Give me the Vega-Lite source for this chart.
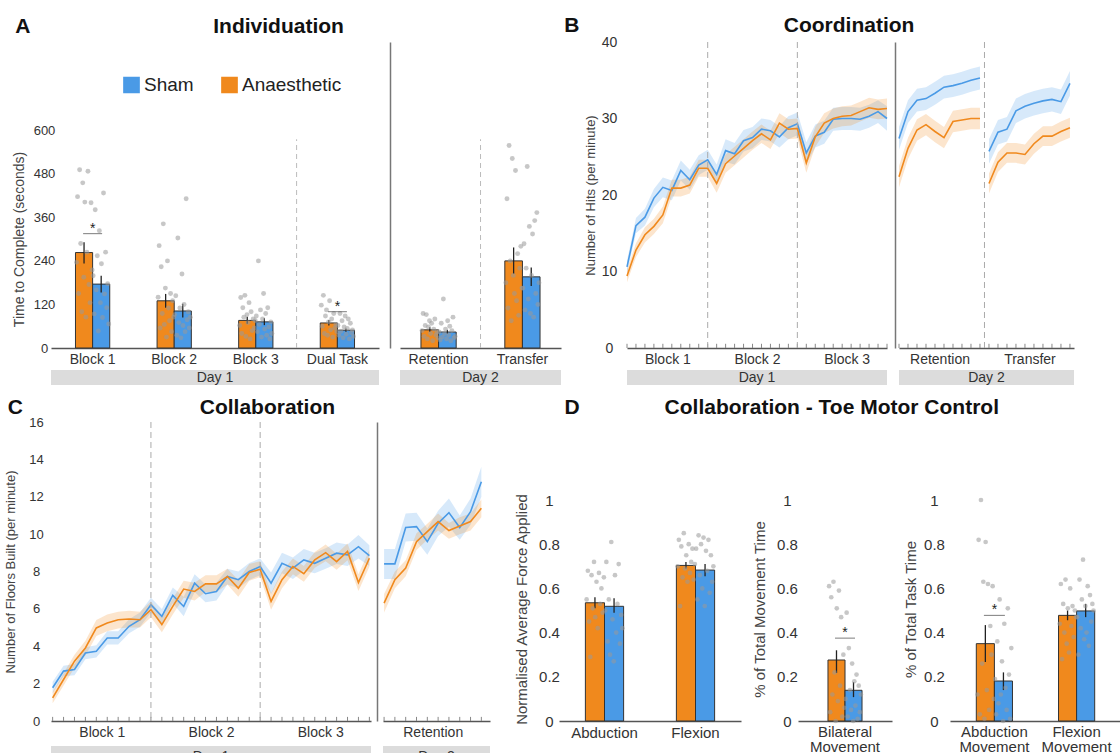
{
"$schema": "https://vega.github.io/schema/vega-lite/v6.json",
"padding": {"left": 4, "top": 15, "right": 0, "bottom": 0},
"config": {
  "font": "Liberation Sans",
  "view": {"stroke": null},
  "axis": {"grid": false, "labelColor": "#333", "titleColor": "#444", "titleFontWeight": "normal", "domainColor": "#555"},
  "title": {"fontSize": 21, "fontWeight": "bold", "color": "#111"}
},
"datasets": {
  "aBars": [
    {"c":"Block 1","g":"Anaesthetic","m":263,"lo":233,"hi":291},
    {"c":"Block 1","g":"Sham","m":176,"lo":153,"hi":199},
    {"c":"Block 2","g":"Anaesthetic","m":130,"lo":111,"hi":149},
    {"c":"Block 2","g":"Sham","m":102,"lo":84,"hi":122},
    {"c":"Block 3","g":"Anaesthetic","m":76,"lo":67,"hi":86},
    {"c":"Block 3","g":"Sham","m":72,"lo":63,"hi":82},
    {"c":"Dual Task","g":"Anaesthetic","m":69,"lo":62,"hi":77},
    {"c":"Dual Task","g":"Sham","m":49,"lo":45,"hi":54},
    {"c":"Retention","g":"Anaesthetic","m":50,"lo":44,"hi":57},
    {"c":"Retention","g":"Sham","m":44,"lo":39,"hi":50},
    {"c":"Transfer","g":"Anaesthetic","m":240,"lo":204,"hi":277},
    {"c":"Transfer","g":"Sham","m":196,"lo":171,"hi":222}
  ],
  "aPts": [
    {"c":"Block 1","k":"a01","v":236},{"c":"Block 1","k":"a02","v":417},{"c":"Block 1","k":"a03","v":150},{"c":"Block 1","k":"a04","v":491},{"c":"Block 1","k":"a05","v":288},{"c":"Block 1","k":"a06","v":100},{"c":"Block 1","k":"a07","v":455},{"c":"Block 1","k":"a08","v":195},{"c":"Block 1","k":"a09","v":402},{"c":"Block 1","k":"a10","v":85},{"c":"Block 1","k":"a11","v":264},{"c":"Block 1","k":"a12","v":487},{"c":"Block 1","k":"a13","v":175},{"c":"Block 1","k":"a14","v":125},{"c":"Block 1","k":"a15","v":400},{"c":"Block 1","k":"a16","v":215},
    {"c":"Block 1","k":"s01","v":199},{"c":"Block 1","k":"s02","v":94},{"c":"Block 1","k":"s03","v":381},{"c":"Block 1","k":"s04","v":160},{"c":"Block 1","k":"s05","v":254},{"c":"Block 1","k":"s06","v":47},{"c":"Block 1","k":"s07","v":323},{"c":"Block 1","k":"s08","v":125},{"c":"Block 1","k":"s09","v":232},{"c":"Block 1","k":"s10","v":84},{"c":"Block 1","k":"s11","v":427},{"c":"Block 1","k":"s12","v":149},{"c":"Block 1","k":"s13","v":264},{"c":"Block 1","k":"s14","v":111},{"c":"Block 1","k":"s15","v":177},{"c":"Block 1","k":"s16","v":66},
    {"c":"Block 2","k":"a01","v":140},{"c":"Block 2","k":"a02","v":282},{"c":"Block 2","k":"a03","v":55},{"c":"Block 2","k":"a04","v":224},{"c":"Block 2","k":"a05","v":95},{"c":"Block 2","k":"a06","v":342},{"c":"Block 2","k":"a07","v":65},{"c":"Block 2","k":"a08","v":165},{"c":"Block 2","k":"a09","v":30},{"c":"Block 2","k":"a10","v":240},{"c":"Block 2","k":"a11","v":110},{"c":"Block 2","k":"a12","v":75},{"c":"Block 2","k":"a13","v":150},{"c":"Block 2","k":"a14","v":45},{"c":"Block 2","k":"a15","v":130},{"c":"Block 2","k":"a16","v":85},
    {"c":"Block 2","k":"s01","v":92},{"c":"Block 2","k":"s02","v":144},{"c":"Block 2","k":"s03","v":35},{"c":"Block 2","k":"s04","v":303},{"c":"Block 2","k":"s05","v":70},{"c":"Block 2","k":"s06","v":110},{"c":"Block 2","k":"s07","v":28},{"c":"Block 2","k":"s08","v":204},{"c":"Block 2","k":"s09","v":62},{"c":"Block 2","k":"s10","v":120},{"c":"Block 2","k":"s11","v":45},{"c":"Block 2","k":"s12","v":411},{"c":"Block 2","k":"s13","v":78},{"c":"Block 2","k":"s14","v":100},{"c":"Block 2","k":"s15","v":55},{"c":"Block 2","k":"s16","v":85},
    {"c":"Block 3","k":"a01","v":62},{"c":"Block 3","k":"a02","v":139},{"c":"Block 3","k":"a03","v":40},{"c":"Block 3","k":"a04","v":111},{"c":"Block 3","k":"a05","v":85},{"c":"Block 3","k":"a06","v":145},{"c":"Block 3","k":"a07","v":32},{"c":"Block 3","k":"a08","v":92},{"c":"Block 3","k":"a09","v":70},{"c":"Block 3","k":"a10","v":125},{"c":"Block 3","k":"a11","v":25},{"c":"Block 3","k":"a12","v":100},{"c":"Block 3","k":"a13","v":48},{"c":"Block 3","k":"a14","v":80},{"c":"Block 3","k":"a15","v":55},{"c":"Block 3","k":"a16","v":75},
    {"c":"Block 3","k":"s01","v":88},{"c":"Block 3","k":"s02","v":45},{"c":"Block 3","k":"s03","v":240},{"c":"Block 3","k":"s04","v":65},{"c":"Block 3","k":"s05","v":105},{"c":"Block 3","k":"s06","v":30},{"c":"Block 3","k":"s07","v":80},{"c":"Block 3","k":"s08","v":150},{"c":"Block 3","k":"s09","v":52},{"c":"Block 3","k":"s10","v":95},{"c":"Block 3","k":"s11","v":35},{"c":"Block 3","k":"s12","v":111},{"c":"Block 3","k":"s13","v":58},{"c":"Block 3","k":"s14","v":25},{"c":"Block 3","k":"s15","v":72},{"c":"Block 3","k":"s16","v":40},
    {"c":"Dual Task","k":"a01","v":118},{"c":"Dual Task","k":"a02","v":60},{"c":"Dual Task","k":"a03","v":145},{"c":"Dual Task","k":"a04","v":40},{"c":"Dual Task","k":"a05","v":88},{"c":"Dual Task","k":"a06","v":105},{"c":"Dual Task","k":"a07","v":35},{"c":"Dual Task","k":"a08","v":72},{"c":"Dual Task","k":"a09","v":130},{"c":"Dual Task","k":"a10","v":50},{"c":"Dual Task","k":"a11","v":80},{"c":"Dual Task","k":"a12","v":30},{"c":"Dual Task","k":"a13","v":95},{"c":"Dual Task","k":"a14","v":55},{"c":"Dual Task","k":"a15","v":65},{"c":"Dual Task","k":"a16","v":45},
    {"c":"Dual Task","k":"s01","v":62},{"c":"Dual Task","k":"s02","v":35},{"c":"Dual Task","k":"s03","v":95},{"c":"Dual Task","k":"s04","v":46},{"c":"Dual Task","k":"s05","v":75},{"c":"Dual Task","k":"s06","v":28},{"c":"Dual Task","k":"s07","v":58},{"c":"Dual Task","k":"s08","v":88},{"c":"Dual Task","k":"s09","v":38},{"c":"Dual Task","k":"s10","v":54},{"c":"Dual Task","k":"s11","v":80},{"c":"Dual Task","k":"s12","v":25},{"c":"Dual Task","k":"s13","v":68},{"c":"Dual Task","k":"s14","v":42},{"c":"Dual Task","k":"s15","v":50},{"c":"Dual Task","k":"s16","v":32},
    {"c":"Retention","k":"a01","v":48},{"c":"Retention","k":"a02","v":95},{"c":"Retention","k":"a03","v":32},{"c":"Retention","k":"a04","v":62},{"c":"Retention","k":"a05","v":92},{"c":"Retention","k":"a06","v":25},{"c":"Retention","k":"a07","v":58},{"c":"Retention","k":"a08","v":75},{"c":"Retention","k":"a09","v":40},{"c":"Retention","k":"a10","v":68},{"c":"Retention","k":"a11","v":20},{"c":"Retention","k":"a12","v":52},{"c":"Retention","k":"a13","v":80},{"c":"Retention","k":"a14","v":36},{"c":"Retention","k":"a15","v":45},{"c":"Retention","k":"a16","v":28},
    {"c":"Retention","k":"s01","v":44},{"c":"Retention","k":"s02","v":22},{"c":"Retention","k":"s03","v":68},{"c":"Retention","k":"s04","v":30},{"c":"Retention","k":"s05","v":135},{"c":"Retention","k":"s06","v":40},{"c":"Retention","k":"s07","v":52},{"c":"Retention","k":"s08","v":25},{"c":"Retention","k":"s09","v":75},{"c":"Retention","k":"s10","v":36},{"c":"Retention","k":"s11","v":60},{"c":"Retention","k":"s12","v":20},{"c":"Retention","k":"s13","v":48},{"c":"Retention","k":"s14","v":85},{"c":"Retention","k":"s15","v":28},{"c":"Retention","k":"s16","v":32},
    {"c":"Transfer","k":"a01","v":180},{"c":"Transfer","k":"a02","v":411},{"c":"Transfer","k":"a03","v":110},{"c":"Transfer","k":"a04","v":558},{"c":"Transfer","k":"a05","v":240},{"c":"Transfer","k":"a06","v":75},{"c":"Transfer","k":"a07","v":522},{"c":"Transfer","k":"a08","v":200},{"c":"Transfer","k":"a09","v":150},{"c":"Transfer","k":"a10","v":489},{"c":"Transfer","k":"a11","v":130},{"c":"Transfer","k":"a12","v":260},{"c":"Transfer","k":"a13","v":90},{"c":"Transfer","k":"a14","v":220},{"c":"Transfer","k":"a15","v":280},{"c":"Transfer","k":"a16","v":165},
    {"c":"Transfer","k":"s01","v":165},{"c":"Transfer","k":"s02","v":287},{"c":"Transfer","k":"s03","v":105},{"c":"Transfer","k":"s04","v":220},{"c":"Transfer","k":"s05","v":500},{"c":"Transfer","k":"s06","v":135},{"c":"Transfer","k":"s07","v":335},{"c":"Transfer","k":"s08","v":95},{"c":"Transfer","k":"s09","v":200},{"c":"Transfer","k":"s10","v":314},{"c":"Transfer","k":"s11","v":85},{"c":"Transfer","k":"s12","v":351},{"c":"Transfer","k":"s13","v":150},{"c":"Transfer","k":"s14","v":373},{"c":"Transfer","k":"s15","v":120},{"c":"Transfer","k":"s16","v":180}
  ],
  "aSig": [{"c":"Block 1","y":315,"s":"*"},{"c":"Dual Task","y":100,"s":"*"}],
  "bL": [
    {"d":1,"p":"B","t":1,"g":"Sham","m":10.6,"lo":9.8,"hi":11.4},{"d":1,"p":"B","t":2,"g":"Sham","m":16.0,"lo":15.0,"hi":17.0},{"d":1,"p":"B","t":3,"g":"Sham","m":17.1,"lo":16.0,"hi":18.2},{"d":1,"p":"B","t":4,"g":"Sham","m":19.6,"lo":18.4,"hi":20.8},{"d":1,"p":"B","t":5,"g":"Sham","m":21.0,"lo":19.7,"hi":22.3},{"d":1,"p":"B","t":6,"g":"Sham","m":20.6,"lo":19.3,"hi":21.9},{"d":1,"p":"B","t":7,"g":"Sham","m":23.2,"lo":21.9,"hi":24.5},{"d":1,"p":"B","t":8,"g":"Sham","m":22.0,"lo":20.7,"hi":23.3},{"d":1,"p":"B","t":9,"g":"Sham","m":23.9,"lo":22.6,"hi":25.2},{"d":1,"p":"B","t":10,"g":"Sham","m":24.6,"lo":23.3,"hi":25.9},
    {"d":1,"p":"B","t":11,"g":"Sham","m":22.7,"lo":21.4,"hi":24.0},{"d":1,"p":"B","t":12,"g":"Sham","m":25.8,"lo":24.3,"hi":27.3},{"d":1,"p":"B","t":13,"g":"Sham","m":25.4,"lo":24.0,"hi":26.8},{"d":1,"p":"B","t":14,"g":"Sham","m":27.1,"lo":25.7,"hi":28.5},{"d":1,"p":"B","t":15,"g":"Sham","m":27.5,"lo":26.1,"hi":28.9},{"d":1,"p":"B","t":16,"g":"Sham","m":28.6,"lo":27.2,"hi":30.0},{"d":1,"p":"B","t":17,"g":"Sham","m":28.4,"lo":27.0,"hi":29.8},{"d":1,"p":"B","t":18,"g":"Sham","m":27.6,"lo":26.2,"hi":29.0},{"d":1,"p":"B","t":19,"g":"Sham","m":28.8,"lo":27.3,"hi":30.3},{"d":1,"p":"B","t":20,"g":"Sham","m":29.3,"lo":27.8,"hi":30.8},
    {"d":1,"p":"B","t":21,"g":"Sham","m":25.5,"lo":24.1,"hi":26.9},{"d":1,"p":"B","t":22,"g":"Sham","m":27.7,"lo":26.2,"hi":29.2},{"d":1,"p":"B","t":23,"g":"Sham","m":28.2,"lo":26.7,"hi":29.7},{"d":1,"p":"B","t":24,"g":"Sham","m":29.9,"lo":28.4,"hi":31.4},{"d":1,"p":"B","t":25,"g":"Sham","m":30.0,"lo":28.5,"hi":31.5},{"d":1,"p":"B","t":26,"g":"Sham","m":30.0,"lo":28.5,"hi":31.5},{"d":1,"p":"B","t":27,"g":"Sham","m":29.9,"lo":28.4,"hi":31.4},{"d":1,"p":"B","t":28,"g":"Sham","m":30.3,"lo":28.8,"hi":31.8},{"d":1,"p":"B","t":29,"g":"Sham","m":30.9,"lo":29.4,"hi":32.4},{"d":1,"p":"B","t":30,"g":"Sham","m":30.0,"lo":28.4,"hi":31.6},
    {"d":1,"p":"B","t":1,"g":"Anaesthetic","m":9.4,"lo":8.6,"hi":10.2},{"d":1,"p":"B","t":2,"g":"Anaesthetic","m":12.8,"lo":11.9,"hi":13.7},{"d":1,"p":"B","t":3,"g":"Anaesthetic","m":14.8,"lo":13.8,"hi":15.8},{"d":1,"p":"B","t":4,"g":"Anaesthetic","m":15.9,"lo":14.9,"hi":16.9},{"d":1,"p":"B","t":5,"g":"Anaesthetic","m":17.4,"lo":16.3,"hi":18.5},{"d":1,"p":"B","t":6,"g":"Anaesthetic","m":20.9,"lo":19.8,"hi":22.0},{"d":1,"p":"B","t":7,"g":"Anaesthetic","m":20.9,"lo":19.8,"hi":22.0},{"d":1,"p":"B","t":8,"g":"Anaesthetic","m":21.3,"lo":20.2,"hi":22.4},{"d":1,"p":"B","t":9,"g":"Anaesthetic","m":23.5,"lo":22.4,"hi":24.6},{"d":1,"p":"B","t":10,"g":"Anaesthetic","m":23.5,"lo":22.4,"hi":24.6},
    {"d":1,"p":"B","t":11,"g":"Anaesthetic","m":21.5,"lo":20.3,"hi":22.7},{"d":1,"p":"B","t":12,"g":"Anaesthetic","m":24.1,"lo":22.9,"hi":25.3},{"d":1,"p":"B","t":13,"g":"Anaesthetic","m":25.1,"lo":23.9,"hi":26.3},{"d":1,"p":"B","t":14,"g":"Anaesthetic","m":26.1,"lo":24.9,"hi":27.3},{"d":1,"p":"B","t":15,"g":"Anaesthetic","m":27.1,"lo":25.9,"hi":28.3},{"d":1,"p":"B","t":16,"g":"Anaesthetic","m":28.0,"lo":26.8,"hi":29.2},{"d":1,"p":"B","t":17,"g":"Anaesthetic","m":27.2,"lo":26.0,"hi":28.4},{"d":1,"p":"B","t":18,"g":"Anaesthetic","m":29.4,"lo":28.1,"hi":30.7},{"d":1,"p":"B","t":19,"g":"Anaesthetic","m":28.6,"lo":27.3,"hi":29.9},{"d":1,"p":"B","t":20,"g":"Anaesthetic","m":28.7,"lo":27.4,"hi":30.0},
    {"d":1,"p":"B","t":21,"g":"Anaesthetic","m":24.2,"lo":22.9,"hi":25.5},{"d":1,"p":"B","t":22,"g":"Anaesthetic","m":27.6,"lo":26.3,"hi":28.9},{"d":1,"p":"B","t":23,"g":"Anaesthetic","m":29.4,"lo":28.1,"hi":30.7},{"d":1,"p":"B","t":24,"g":"Anaesthetic","m":30.0,"lo":28.7,"hi":31.3},{"d":1,"p":"B","t":25,"g":"Anaesthetic","m":30.3,"lo":29.0,"hi":31.6},{"d":1,"p":"B","t":26,"g":"Anaesthetic","m":30.4,"lo":29.1,"hi":31.7},{"d":1,"p":"B","t":27,"g":"Anaesthetic","m":30.9,"lo":29.6,"hi":32.2},{"d":1,"p":"B","t":28,"g":"Anaesthetic","m":31.4,"lo":30.1,"hi":32.7},{"d":1,"p":"B","t":29,"g":"Anaesthetic","m":31.2,"lo":29.9,"hi":32.5},{"d":1,"p":"B","t":30,"g":"Anaesthetic","m":31.3,"lo":30.0,"hi":32.6},
    {"d":2,"p":"R","t":1,"g":"Sham","m":27.4,"lo":25.9,"hi":28.9},{"d":2,"p":"R","t":2,"g":"Sham","m":30.9,"lo":29.4,"hi":32.4},{"d":2,"p":"R","t":3,"g":"Sham","m":32.4,"lo":30.9,"hi":33.9},{"d":2,"p":"R","t":4,"g":"Sham","m":32.6,"lo":31.1,"hi":34.1},{"d":2,"p":"R","t":5,"g":"Sham","m":33.3,"lo":31.8,"hi":34.8},{"d":2,"p":"R","t":6,"g":"Sham","m":34.1,"lo":32.6,"hi":35.6},{"d":2,"p":"R","t":7,"g":"Sham","m":34.3,"lo":32.8,"hi":35.8},{"d":2,"p":"R","t":8,"g":"Sham","m":34.6,"lo":33.1,"hi":36.1},{"d":2,"p":"R","t":9,"g":"Sham","m":35.0,"lo":33.5,"hi":36.5},{"d":2,"p":"R","t":10,"g":"Sham","m":35.3,"lo":33.8,"hi":36.8},
    {"d":2,"p":"R","t":1,"g":"Anaesthetic","m":22.4,"lo":21.0,"hi":23.8},{"d":2,"p":"R","t":2,"g":"Anaesthetic","m":26.1,"lo":24.7,"hi":27.5},{"d":2,"p":"R","t":3,"g":"Anaesthetic","m":28.5,"lo":27.1,"hi":29.9},{"d":2,"p":"R","t":4,"g":"Anaesthetic","m":29.2,"lo":27.8,"hi":30.6},{"d":2,"p":"R","t":5,"g":"Anaesthetic","m":28.3,"lo":26.9,"hi":29.7},{"d":2,"p":"R","t":6,"g":"Anaesthetic","m":27.5,"lo":26.1,"hi":28.9},{"d":2,"p":"R","t":7,"g":"Anaesthetic","m":29.6,"lo":28.2,"hi":31.0},{"d":2,"p":"R","t":8,"g":"Anaesthetic","m":29.8,"lo":28.4,"hi":31.2},{"d":2,"p":"R","t":9,"g":"Anaesthetic","m":30.0,"lo":28.6,"hi":31.4},{"d":2,"p":"R","t":10,"g":"Anaesthetic","m":30.0,"lo":28.6,"hi":31.4},
    {"d":2,"p":"T","t":11,"g":"Sham","m":25.7,"lo":24.1,"hi":27.3},{"d":2,"p":"T","t":12,"g":"Sham","m":28.2,"lo":26.6,"hi":29.8},{"d":2,"p":"T","t":13,"g":"Sham","m":28.6,"lo":27.0,"hi":30.2},{"d":2,"p":"T","t":14,"g":"Sham","m":31.0,"lo":29.4,"hi":32.6},{"d":2,"p":"T","t":15,"g":"Sham","m":31.6,"lo":30.0,"hi":33.2},{"d":2,"p":"T","t":16,"g":"Sham","m":32.0,"lo":30.4,"hi":33.6},{"d":2,"p":"T","t":17,"g":"Sham","m":32.3,"lo":30.7,"hi":33.9},{"d":2,"p":"T","t":18,"g":"Sham","m":32.5,"lo":30.9,"hi":34.1},{"d":2,"p":"T","t":19,"g":"Sham","m":32.2,"lo":30.6,"hi":33.8},{"d":2,"p":"T","t":20,"g":"Sham","m":34.6,"lo":33.0,"hi":36.2},
    {"d":2,"p":"T","t":11,"g":"Anaesthetic","m":21.5,"lo":20.2,"hi":22.8},{"d":2,"p":"T","t":12,"g":"Anaesthetic","m":24.3,"lo":23.0,"hi":25.6},{"d":2,"p":"T","t":13,"g":"Anaesthetic","m":25.5,"lo":24.2,"hi":26.8},{"d":2,"p":"T","t":14,"g":"Anaesthetic","m":25.5,"lo":24.2,"hi":26.8},{"d":2,"p":"T","t":15,"g":"Anaesthetic","m":25.3,"lo":24.0,"hi":26.6},{"d":2,"p":"T","t":16,"g":"Anaesthetic","m":26.7,"lo":25.4,"hi":28.0},{"d":2,"p":"T","t":17,"g":"Anaesthetic","m":27.7,"lo":26.4,"hi":29.0},{"d":2,"p":"T","t":18,"g":"Anaesthetic","m":27.7,"lo":26.4,"hi":29.0},{"d":2,"p":"T","t":19,"g":"Anaesthetic","m":28.3,"lo":27.0,"hi":29.6},{"d":2,"p":"T","t":20,"g":"Anaesthetic","m":28.8,"lo":27.5,"hi":30.1}
  ],
  "cL": [
    {"d":1,"p":"B","t":1,"g":"Sham","m":1.78,"lo":1.5,"hi":2.1},{"d":1,"p":"B","t":2,"g":"Sham","m":2.67,"lo":2.4,"hi":2.95},{"d":1,"p":"B","t":3,"g":"Sham","m":2.76,"lo":2.45,"hi":3.05},{"d":1,"p":"B","t":4,"g":"Sham","m":3.64,"lo":3.3,"hi":3.95},{"d":1,"p":"B","t":5,"g":"Sham","m":3.73,"lo":3.4,"hi":4.05},{"d":1,"p":"B","t":6,"g":"Sham","m":4.44,"lo":4.1,"hi":4.8},{"d":1,"p":"B","t":7,"g":"Sham","m":4.44,"lo":4.1,"hi":4.8},{"d":1,"p":"B","t":8,"g":"Sham","m":5.07,"lo":4.7,"hi":5.45},{"d":1,"p":"B","t":9,"g":"Sham","m":5.42,"lo":5.05,"hi":5.8},{"d":1,"p":"B","t":10,"g":"Sham","m":6.22,"lo":5.8,"hi":6.6},
    {"d":1,"p":"B","t":11,"g":"Sham","m":5.6,"lo":5.2,"hi":6.0},{"d":1,"p":"B","t":12,"g":"Sham","m":6.72,"lo":6.3,"hi":7.15},{"d":1,"p":"B","t":13,"g":"Sham","m":6.13,"lo":5.6,"hi":6.65},{"d":1,"p":"B","t":14,"g":"Sham","m":7.38,"lo":6.9,"hi":7.85},{"d":1,"p":"B","t":15,"g":"Sham","m":6.81,"lo":6.35,"hi":7.3},{"d":1,"p":"B","t":16,"g":"Sham","m":6.93,"lo":6.45,"hi":7.4},{"d":1,"p":"B","t":17,"g":"Sham","m":7.73,"lo":7.3,"hi":8.15},{"d":1,"p":"B","t":18,"g":"Sham","m":7.56,"lo":7.1,"hi":8.0},{"d":1,"p":"B","t":19,"g":"Sham","m":8.0,"lo":7.55,"hi":8.45},{"d":1,"p":"B","t":20,"g":"Sham","m":8.27,"lo":7.8,"hi":8.7},
    {"d":1,"p":"B","t":21,"g":"Sham","m":7.38,"lo":6.8,"hi":7.95},{"d":1,"p":"B","t":22,"g":"Sham","m":8.44,"lo":7.9,"hi":9.0},{"d":1,"p":"B","t":23,"g":"Sham","m":8.18,"lo":7.6,"hi":8.75},{"d":1,"p":"B","t":24,"g":"Sham","m":8.62,"lo":8.05,"hi":9.2},{"d":1,"p":"B","t":25,"g":"Sham","m":8.44,"lo":7.9,"hi":9.0},{"d":1,"p":"B","t":26,"g":"Sham","m":8.71,"lo":8.15,"hi":9.25},{"d":1,"p":"B","t":27,"g":"Sham","m":8.98,"lo":8.4,"hi":9.55},{"d":1,"p":"B","t":28,"g":"Sham","m":8.89,"lo":8.3,"hi":9.45},{"d":1,"p":"B","t":29,"g":"Sham","m":9.33,"lo":8.7,"hi":9.95},{"d":1,"p":"B","t":30,"g":"Sham","m":8.85,"lo":8.3,"hi":9.4},
    {"d":1,"p":"B","t":1,"g":"Anaesthetic","m":1.24,"lo":0.95,"hi":1.55},{"d":1,"p":"B","t":2,"g":"Anaesthetic","m":2.22,"lo":1.9,"hi":2.55},{"d":1,"p":"B","t":3,"g":"Anaesthetic","m":3.2,"lo":2.85,"hi":3.55},{"d":1,"p":"B","t":4,"g":"Anaesthetic","m":3.91,"lo":3.5,"hi":4.3},{"d":1,"p":"B","t":5,"g":"Anaesthetic","m":4.98,"lo":4.55,"hi":5.4},{"d":1,"p":"B","t":6,"g":"Anaesthetic","m":5.24,"lo":4.8,"hi":5.7},{"d":1,"p":"B","t":7,"g":"Anaesthetic","m":5.42,"lo":4.95,"hi":5.85},{"d":1,"p":"B","t":8,"g":"Anaesthetic","m":5.46,"lo":5.0,"hi":5.9},{"d":1,"p":"B","t":9,"g":"Anaesthetic","m":5.42,"lo":5.0,"hi":5.85},{"d":1,"p":"B","t":10,"g":"Anaesthetic","m":5.96,"lo":5.55,"hi":6.4},
    {"d":1,"p":"B","t":11,"g":"Anaesthetic","m":5.16,"lo":4.75,"hi":5.6},{"d":1,"p":"B","t":12,"g":"Anaesthetic","m":6.13,"lo":5.7,"hi":6.55},{"d":1,"p":"B","t":13,"g":"Anaesthetic","m":7.06,"lo":6.6,"hi":7.5},{"d":1,"p":"B","t":14,"g":"Anaesthetic","m":6.93,"lo":6.45,"hi":7.4},{"d":1,"p":"B","t":15,"g":"Anaesthetic","m":7.34,"lo":6.9,"hi":7.8},{"d":1,"p":"B","t":16,"g":"Anaesthetic","m":7.34,"lo":6.9,"hi":7.8},{"d":1,"p":"B","t":17,"g":"Anaesthetic","m":7.73,"lo":7.3,"hi":8.15},{"d":1,"p":"B","t":18,"g":"Anaesthetic","m":7.11,"lo":6.65,"hi":7.55},{"d":1,"p":"B","t":19,"g":"Anaesthetic","m":7.95,"lo":7.5,"hi":8.4},{"d":1,"p":"B","t":20,"g":"Anaesthetic","m":8.12,"lo":7.7,"hi":8.55},
    {"d":1,"p":"B","t":21,"g":"Anaesthetic","m":6.4,"lo":5.95,"hi":6.85},{"d":1,"p":"B","t":22,"g":"Anaesthetic","m":7.56,"lo":7.1,"hi":8.0},{"d":1,"p":"B","t":23,"g":"Anaesthetic","m":8.27,"lo":7.85,"hi":8.7},{"d":1,"p":"B","t":24,"g":"Anaesthetic","m":7.88,"lo":7.45,"hi":8.3},{"d":1,"p":"B","t":25,"g":"Anaesthetic","m":8.62,"lo":8.2,"hi":9.05},{"d":1,"p":"B","t":26,"g":"Anaesthetic","m":9.01,"lo":8.55,"hi":9.45},{"d":1,"p":"B","t":27,"g":"Anaesthetic","m":8.53,"lo":8.1,"hi":8.95},{"d":1,"p":"B","t":28,"g":"Anaesthetic","m":9.07,"lo":8.6,"hi":9.5},{"d":1,"p":"B","t":29,"g":"Anaesthetic","m":7.41,"lo":6.95,"hi":7.85},{"d":1,"p":"B","t":30,"g":"Anaesthetic","m":8.71,"lo":8.25,"hi":9.15},
    {"d":2,"p":"R","t":1,"g":"Sham","m":8.41,"lo":7.6,"hi":9.2},{"d":2,"p":"R","t":2,"g":"Sham","m":8.41,"lo":7.6,"hi":9.2},{"d":2,"p":"R","t":3,"g":"Sham","m":10.36,"lo":9.6,"hi":11.1},{"d":2,"p":"R","t":4,"g":"Sham","m":10.4,"lo":9.65,"hi":11.15},{"d":2,"p":"R","t":5,"g":"Sham","m":9.6,"lo":8.9,"hi":10.3},{"d":2,"p":"R","t":6,"g":"Sham","m":10.58,"lo":9.9,"hi":11.25},{"d":2,"p":"R","t":7,"g":"Sham","m":11.15,"lo":10.4,"hi":11.9},{"d":2,"p":"R","t":8,"g":"Sham","m":10.35,"lo":9.7,"hi":11.0},{"d":2,"p":"R","t":9,"g":"Sham","m":11.2,"lo":10.5,"hi":11.9},{"d":2,"p":"R","t":10,"g":"Sham","m":12.8,"lo":12.0,"hi":13.6},
    {"d":2,"p":"R","t":1,"g":"Anaesthetic","m":6.31,"lo":5.8,"hi":6.8},{"d":2,"p":"R","t":2,"g":"Anaesthetic","m":7.56,"lo":7.1,"hi":8.0},{"d":2,"p":"R","t":3,"g":"Anaesthetic","m":8.18,"lo":7.75,"hi":8.6},{"d":2,"p":"R","t":4,"g":"Anaesthetic","m":9.6,"lo":9.15,"hi":10.05},{"d":2,"p":"R","t":5,"g":"Anaesthetic","m":10.13,"lo":9.7,"hi":10.55},{"d":2,"p":"R","t":6,"g":"Anaesthetic","m":10.67,"lo":10.2,"hi":11.1},{"d":2,"p":"R","t":7,"g":"Anaesthetic","m":10.19,"lo":9.75,"hi":10.6},{"d":2,"p":"R","t":8,"g":"Anaesthetic","m":10.44,"lo":10.0,"hi":10.9},{"d":2,"p":"R","t":9,"g":"Anaesthetic","m":10.67,"lo":10.2,"hi":11.1},{"d":2,"p":"R","t":10,"g":"Anaesthetic","m":11.38,"lo":10.9,"hi":11.85}
  ],
  "dBars": [
    {"p":"D1","c":"Abduction","g":"Anaesthetic","m":0.535,"lo":0.51,"hi":0.56},
    {"p":"D1","c":"Abduction","g":"Sham","m":0.519,"lo":0.49,"hi":0.555},
    {"p":"D1","c":"Flexion","g":"Anaesthetic","m":0.704,"lo":0.69,"hi":0.72},
    {"p":"D1","c":"Flexion","g":"Sham","m":0.683,"lo":0.655,"hi":0.71},
    {"p":"D2","c":"Bilateral Movement","g":"Anaesthetic","m":0.276,"lo":0.217,"hi":0.32},
    {"p":"D2","c":"Bilateral Movement","g":"Sham","m":0.139,"lo":0.108,"hi":0.176},
    {"p":"D3","c":"Abduction Movement","g":"Anaesthetic","m":0.35,"lo":0.267,"hi":0.434},
    {"p":"D3","c":"Abduction Movement","g":"Sham","m":0.181,"lo":0.14,"hi":0.22},
    {"p":"D3","c":"Flexion Movement","g":"Anaesthetic","m":0.478,"lo":0.456,"hi":0.5},
    {"p":"D3","c":"Flexion Movement","g":"Sham","m":0.498,"lo":0.47,"hi":0.53}
  ],
  "dPts": [
    {"p":"D1","c":"Abduction","k":"a01","v":0.55},{"p":"D1","c":"Abduction","k":"a02","v":0.68},{"p":"D1","c":"Abduction","k":"a03","v":0.45},{"p":"D1","c":"Abduction","k":"a04","v":0.29},{"p":"D1","c":"Abduction","k":"a05","v":0.66},{"p":"D1","c":"Abduction","k":"a06","v":0.51},{"p":"D1","c":"Abduction","k":"a07","v":0.72},{"p":"D1","c":"Abduction","k":"a08","v":0.47},{"p":"D1","c":"Abduction","k":"a09","v":0.63},{"p":"D1","c":"Abduction","k":"a10","v":0.42},{"p":"D1","c":"Abduction","k":"a11","v":0.67},{"p":"D1","c":"Abduction","k":"a12","v":0.53},{"p":"D1","c":"Abduction","k":"a13","v":0.60},{"p":"D1","c":"Abduction","k":"a14","v":0.49},{"p":"D1","c":"Abduction","k":"a15","v":0.65},
    {"p":"D1","c":"Abduction","k":"s01","v":0.50},{"p":"D1","c":"Abduction","k":"s02","v":0.72},{"p":"D1","c":"Abduction","k":"s03","v":0.36},{"p":"D1","c":"Abduction","k":"s04","v":0.55},{"p":"D1","c":"Abduction","k":"s05","v":0.30},{"p":"D1","c":"Abduction","k":"s06","v":0.81},{"p":"D1","c":"Abduction","k":"s07","v":0.46},{"p":"D1","c":"Abduction","k":"s08","v":0.27},{"p":"D1","c":"Abduction","k":"s09","v":0.66},{"p":"D1","c":"Abduction","k":"s10","v":0.40},{"p":"D1","c":"Abduction","k":"s11","v":0.53},{"p":"D1","c":"Abduction","k":"s12","v":0.71},{"p":"D1","c":"Abduction","k":"s13","v":0.35},{"p":"D1","c":"Abduction","k":"s14","v":0.48},{"p":"D1","c":"Abduction","k":"s15","v":0.42},
    {"p":"D1","c":"Flexion","k":"a01","v":0.70},{"p":"D1","c":"Flexion","k":"a02","v":0.82},{"p":"D1","c":"Flexion","k":"a03","v":0.52},{"p":"D1","c":"Flexion","k":"a04","v":0.79},{"p":"D1","c":"Flexion","k":"a05","v":0.65},{"p":"D1","c":"Flexion","k":"a06","v":0.85},{"p":"D1","c":"Flexion","k":"a07","v":0.69},{"p":"D1","c":"Flexion","k":"a08","v":0.75},{"p":"D1","c":"Flexion","k":"a09","v":0.63},{"p":"D1","c":"Flexion","k":"a10","v":0.80},{"p":"D1","c":"Flexion","k":"a11","v":0.67},{"p":"D1","c":"Flexion","k":"a12","v":0.72},{"p":"D1","c":"Flexion","k":"a13","v":0.78},{"p":"D1","c":"Flexion","k":"a14","v":0.64},{"p":"D1","c":"Flexion","k":"a15","v":0.71},
    {"p":"D1","c":"Flexion","k":"s01","v":0.78},{"p":"D1","c":"Flexion","k":"s02","v":0.55},{"p":"D1","c":"Flexion","k":"s03","v":0.84},{"p":"D1","c":"Flexion","k":"s04","v":0.66},{"p":"D1","c":"Flexion","k":"s05","v":0.80},{"p":"D1","c":"Flexion","k":"s06","v":0.60},{"p":"D1","c":"Flexion","k":"s07","v":0.83},{"p":"D1","c":"Flexion","k":"s08","v":0.52},{"p":"D1","c":"Flexion","k":"s09","v":0.77},{"p":"D1","c":"Flexion","k":"s10","v":0.68},{"p":"D1","c":"Flexion","k":"s11","v":0.82},{"p":"D1","c":"Flexion","k":"s12","v":0.58},{"p":"D1","c":"Flexion","k":"s13","v":0.75},{"p":"D1","c":"Flexion","k":"s14","v":0.63},{"p":"D1","c":"Flexion","k":"s15","v":0.70},
    {"p":"D2","c":"Bilateral Movement","k":"a01","v":0.61},{"p":"D2","c":"Bilateral Movement","k":"a02","v":0.04},{"p":"D2","c":"Bilateral Movement","k":"a03","v":0.56},{"p":"D2","c":"Bilateral Movement","k":"a04","v":0.12},{"p":"D2","c":"Bilateral Movement","k":"a05","v":0.63},{"p":"D2","c":"Bilateral Movement","k":"a06","v":0.22},{"p":"D2","c":"Bilateral Movement","k":"a07","v":0.0},{"p":"D2","c":"Bilateral Movement","k":"a08","v":0.51},{"p":"D2","c":"Bilateral Movement","k":"a09","v":0.09},{"p":"D2","c":"Bilateral Movement","k":"a10","v":0.59},{"p":"D2","c":"Bilateral Movement","k":"a11","v":0.16},{"p":"D2","c":"Bilateral Movement","k":"a12","v":0.47},{"p":"D2","c":"Bilateral Movement","k":"a13","v":0.02},{"p":"D2","c":"Bilateral Movement","k":"a14","v":0.30},{"p":"D2","c":"Bilateral Movement","k":"a15","v":0.06},
    {"p":"D2","c":"Bilateral Movement","k":"s01","v":0.10},{"p":"D2","c":"Bilateral Movement","k":"s02","v":0.49},{"p":"D2","c":"Bilateral Movement","k":"s03","v":0.02},{"p":"D2","c":"Bilateral Movement","k":"s04","v":0.33},{"p":"D2","c":"Bilateral Movement","k":"s05","v":0.14},{"p":"D2","c":"Bilateral Movement","k":"s06","v":0.05},{"p":"D2","c":"Bilateral Movement","k":"s07","v":0.26},{"p":"D2","c":"Bilateral Movement","k":"s08","v":0.0},{"p":"D2","c":"Bilateral Movement","k":"s09","v":0.18},{"p":"D2","c":"Bilateral Movement","k":"s10","v":0.07},{"p":"D2","c":"Bilateral Movement","k":"s11","v":0.21},{"p":"D2","c":"Bilateral Movement","k":"s12","v":0.01},{"p":"D2","c":"Bilateral Movement","k":"s13","v":0.16},{"p":"D2","c":"Bilateral Movement","k":"s14","v":0.04},{"p":"D2","c":"Bilateral Movement","k":"s15","v":0.12},
    {"p":"D3","c":"Abduction Movement","k":"a01","v":0.12},{"p":"D3","c":"Abduction Movement","k":"a02","v":0.82},{"p":"D3","c":"Abduction Movement","k":"a03","v":0.03},{"p":"D3","c":"Abduction Movement","k":"a04","v":1.0},{"p":"D3","c":"Abduction Movement","k":"a05","v":0.26},{"p":"D3","c":"Abduction Movement","k":"a06","v":0.63},{"p":"D3","c":"Abduction Movement","k":"a07","v":0.01},{"p":"D3","c":"Abduction Movement","k":"a08","v":0.81},{"p":"D3","c":"Abduction Movement","k":"a09","v":0.14},{"p":"D3","c":"Abduction Movement","k":"a10","v":0.62},{"p":"D3","c":"Abduction Movement","k":"a11","v":0.05},{"p":"D3","c":"Abduction Movement","k":"a12","v":0.43},{"p":"D3","c":"Abduction Movement","k":"a13","v":0.30},{"p":"D3","c":"Abduction Movement","k":"a14","v":0.61},{"p":"D3","c":"Abduction Movement","k":"a15","v":0.10},
    {"p":"D3","c":"Abduction Movement","k":"s01","v":0.19},{"p":"D3","c":"Abduction Movement","k":"s02","v":0.03},{"p":"D3","c":"Abduction Movement","k":"s03","v":0.36},{"p":"D3","c":"Abduction Movement","k":"s04","v":0.08},{"p":"D3","c":"Abduction Movement","k":"s05","v":0.55},{"p":"D3","c":"Abduction Movement","k":"s06","v":0.12},{"p":"D3","c":"Abduction Movement","k":"s07","v":0.27},{"p":"D3","c":"Abduction Movement","k":"s08","v":0.0},{"p":"D3","c":"Abduction Movement","k":"s09","v":0.44},{"p":"D3","c":"Abduction Movement","k":"s10","v":0.15},{"p":"D3","c":"Abduction Movement","k":"s11","v":0.05},{"p":"D3","c":"Abduction Movement","k":"s12","v":0.51},{"p":"D3","c":"Abduction Movement","k":"s13","v":0.21},{"p":"D3","c":"Abduction Movement","k":"s14","v":0.01},{"p":"D3","c":"Abduction Movement","k":"s15","v":0.33},
    {"p":"D3","c":"Flexion Movement","k":"a01","v":0.44},{"p":"D3","c":"Flexion Movement","k":"a02","v":0.62},{"p":"D3","c":"Flexion Movement","k":"a03","v":0.28},{"p":"D3","c":"Flexion Movement","k":"a04","v":0.53},{"p":"D3","c":"Flexion Movement","k":"a05","v":0.40},{"p":"D3","c":"Flexion Movement","k":"a06","v":0.64},{"p":"D3","c":"Flexion Movement","k":"a07","v":0.35},{"p":"D3","c":"Flexion Movement","k":"a08","v":0.51},{"p":"D3","c":"Flexion Movement","k":"a09","v":0.31},{"p":"D3","c":"Flexion Movement","k":"a10","v":0.60},{"p":"D3","c":"Flexion Movement","k":"a11","v":0.43},{"p":"D3","c":"Flexion Movement","k":"a12","v":0.52},{"p":"D3","c":"Flexion Movement","k":"a13","v":0.38},{"p":"D3","c":"Flexion Movement","k":"a14","v":0.50},{"p":"D3","c":"Flexion Movement","k":"a15","v":0.47},
    {"p":"D3","c":"Flexion Movement","k":"s01","v":0.47},{"p":"D3","c":"Flexion Movement","k":"s02","v":0.30},{"p":"D3","c":"Flexion Movement","k":"s03","v":0.64},{"p":"D3","c":"Flexion Movement","k":"s04","v":0.42},{"p":"D3","c":"Flexion Movement","k":"s05","v":0.55},{"p":"D3","c":"Flexion Movement","k":"s06","v":0.73},{"p":"D3","c":"Flexion Movement","k":"s07","v":0.37},{"p":"D3","c":"Flexion Movement","k":"s08","v":0.52},{"p":"D3","c":"Flexion Movement","k":"s09","v":0.40},{"p":"D3","c":"Flexion Movement","k":"s10","v":0.61},{"p":"D3","c":"Flexion Movement","k":"s11","v":0.34},{"p":"D3","c":"Flexion Movement","k":"s12","v":0.57},{"p":"D3","c":"Flexion Movement","k":"s13","v":0.45},{"p":"D3","c":"Flexion Movement","k":"s14","v":0.53},{"p":"D3","c":"Flexion Movement","k":"s15","v":0.50}
  ],
  "dSig": [{"p":"D2","c":"Bilateral Movement","y":0.375,"s":"*"},{"p":"D3","c":"Abduction Movement","y":0.478,"s":"*"}]
},
"spacing": 12,
"vconcat": [
 {"spacing": 3, "hconcat": [
  {"title": {"text": "A", "anchor": "start", "offset": 0, "dy": 21, "dx": 3},
   "vconcat": [{
    "title": {"text": "Individuation", "anchor": "middle", "offset": 5, "dx": -8},
    "spacing": 11,
    "hconcat": [
     {"spacing": 4, "vconcat": [
      {"width": 328, "height": 306,
       "resolve": {"scale": {"xOffset": "independent"}},
       "layer": [
        {"data": {"name": "aBars"}, "transform": [{"filter": "datum.c != 'Retention' && datum.c != 'Transfer'"}],
         "mark": {"type": "bar", "stroke": "#333", "strokeWidth": 1},
         "encoding": {
          "x": {"field": "c", "type": "nominal", "scale": {"domain": ["Block 1","Block 2","Block 3","Dual Task"], "paddingInner": 0.58, "paddingOuter": 0.3},
                "axis": {"title": null, "labelAngle": 0, "ticks": false, "domainColor": "#555", "domainWidth": 1.5, "labelFontSize": 14, "labelPadding": 4}},
          "xOffset": {"field": "g", "type": "nominal", "scale": {"domain": ["Anaesthetic","Sham"], "paddingInner": 0, "paddingOuter": 0}},
          "y": {"field": "m", "type": "quantitative", "scale": {"domain": [0, 843], "nice": false},
                "axis": {"title": "Time to Complete (seconds)", "values": [0,120,240,360,480,600], "tickCount": 10, "domain": false, "ticks": false, "labelFontSize": 13, "labelAlign": "center", "labelPadding": 7, "titleFontSize": 14, "titlePadding": 7, "titleY": 197}},
          "color": {"field": "g", "type": "nominal", "scale": {"domain": ["Sham","Anaesthetic"], "range": ["#4A9AE6","#F0891D"]},
                    "legend": {"orient": "none", "legendX": 71, "legendY": 33, "direction": "horizontal", "title": null, "symbolType": "square", "symbolSize": 230, "symbolStrokeColor": "#222", "symbolStrokeWidth": 1.5, "labelFontSize": 19, "labelColor": "#222", "columnPadding": 24, "labelOffset": 3, "padding": 0}}
         }},
        {"data": {"name": "aBars"}, "transform": [{"filter": "datum.c != 'Retention' && datum.c != 'Transfer'"}],
         "mark": {"type": "rule", "color": "#222", "strokeWidth": 1.3},
         "encoding": {"x": {"field": "c", "type": "nominal"}, "xOffset": {"field": "g", "type": "nominal", "scale": {"domain": ["Anaesthetic","Sham"], "paddingInner": 0, "paddingOuter": 0}}, "y": {"field": "lo", "type": "quantitative"}, "y2": {"field": "hi"}}},
        {"data": {"name": "aPts"}, "transform": [{"filter": "datum.c != 'Retention' && datum.c != 'Transfer'"}],
         "mark": {"type": "circle", "size": 24, "color": "#999", "opacity": 0.55},
         "encoding": {"x": {"field": "c", "type": "nominal"}, "xOffset": {"field": "k", "type": "nominal", "scale": {"paddingOuter": 1}}, "y": {"field": "v", "type": "quantitative"}}},
        {"data": {"name": "aSig"}, "mark": {"type": "tick", "orient": "horizontal", "size": 19, "thickness": 1, "color": "#444"},
         "encoding": {"x": {"field": "c", "type": "nominal"}, "y": {"field": "y", "type": "quantitative"}}},
        {"data": {"name": "aSig"}, "mark": {"type": "text", "fontSize": 14, "dy": -5, "color": "#222"},
         "encoding": {"x": {"field": "c", "type": "nominal"}, "y": {"field": "y", "type": "quantitative"}, "text": {"field": "s"}}},
        {"data": {"values": [{"c": "Dual Task"}]}, "mark": {"type": "rule", "strokeDash": [5,4], "color": "#bbb"},
         "encoding": {"x": {"field": "c", "type": "nominal", "bandPosition": -0.69}, "y": {"datum": 0}, "y2": {"datum": 575}}}
       ]},
      {"width": 328, "height": 15, "data": {"values": [{"d": "Day 1"}]},
       "layer": [
        {"mark": {"type": "rect", "color": "#dcdcdc"}, "encoding": {"x": {"field": "d", "type": "nominal", "axis": null, "scale": {"paddingInner": 0, "paddingOuter": 0}}}},
        {"mark": {"type": "text", "fontSize": 14, "color": "#333"}, "encoding": {"x": {"field": "d", "type": "nominal", "axis": null}, "text": {"field": "d"}}}
       ]}
     ]},
     {"spacing": 4, "vconcat": [
      {"width": 161, "height": 306,
       "resolve": {"scale": {"xOffset": "independent"}},
       "layer": [
        {"data": {"name": "aBars"}, "transform": [{"filter": "datum.c == 'Retention' || datum.c == 'Transfer'"}],
         "mark": {"type": "bar", "stroke": "#333", "strokeWidth": 1},
         "encoding": {
          "x": {"field": "c", "type": "nominal", "scale": {"domain": ["Retention","Transfer"], "paddingInner": 0.58, "paddingOuter": 0.25},
                "axis": {"title": null, "labelAngle": 0, "ticks": false, "domainColor": "#555", "domainWidth": 1.5, "labelFontSize": 14, "labelPadding": 4}},
          "xOffset": {"field": "g", "type": "nominal", "scale": {"domain": ["Anaesthetic","Sham"], "paddingInner": 0, "paddingOuter": 0}},
          "y": {"field": "m", "type": "quantitative", "scale": {"domain": [0, 843], "nice": false},
                "axis": {"title": null, "labels": false, "ticks": false, "domain": true, "domainColor": "#777", "domainWidth": 1.5, "offset": 10}},
          "color": {"field": "g", "type": "nominal", "scale": {"domain": ["Sham","Anaesthetic"], "range": ["#4A9AE6","#F0891D"]}, "legend": null}
         }},
        {"data": {"name": "aBars"}, "transform": [{"filter": "datum.c == 'Retention' || datum.c == 'Transfer'"}],
         "mark": {"type": "rule", "color": "#222", "strokeWidth": 1.3},
         "encoding": {"x": {"field": "c", "type": "nominal"}, "xOffset": {"field": "g", "type": "nominal", "scale": {"domain": ["Anaesthetic","Sham"], "paddingInner": 0, "paddingOuter": 0}}, "y": {"field": "lo", "type": "quantitative"}, "y2": {"field": "hi"}}},
        {"data": {"name": "aPts"}, "transform": [{"filter": "datum.c == 'Retention' || datum.c == 'Transfer'"}],
         "mark": {"type": "circle", "size": 24, "color": "#999", "opacity": 0.55},
         "encoding": {"x": {"field": "c", "type": "nominal"}, "xOffset": {"field": "k", "type": "nominal", "scale": {"paddingOuter": 1}}, "y": {"field": "v", "type": "quantitative"}}},
        {"data": {"values": [{"c": "Transfer"}]}, "mark": {"type": "rule", "strokeDash": [5,4], "color": "#bbb"},
         "encoding": {"x": {"field": "c", "type": "nominal", "bandPosition": -0.69}, "y": {"datum": 0}, "y2": {"datum": 575}}}
       ]},
      {"width": 161, "height": 15, "data": {"values": [{"d": "Day 2"}]},
       "layer": [
        {"mark": {"type": "rect", "color": "#dcdcdc"}, "encoding": {"x": {"field": "d", "type": "nominal", "axis": null, "scale": {"paddingInner": 0, "paddingOuter": 0}}}},
        {"mark": {"type": "text", "fontSize": 14, "color": "#333"}, "encoding": {"x": {"field": "d", "type": "nominal", "axis": null}, "text": {"field": "d"}}}
       ]}
     ]}
    ]
   }]
  },
  {"title": {"text": "B", "anchor": "start", "offset": 0, "dy": 21, "dx": -20},
   "vconcat": [{
    "title": {"text": "Coordination", "anchor": "middle", "offset": -1, "dx": 20},
    "spacing": 4,
    "hconcat": [
     {"spacing": 4, "vconcat": [
      {"width": 260, "height": 306,
       "layer": [
        {"data": {"name": "bL"}, "transform": [{"filter": "datum.d == 1"}], "mark": {"type": "area", "opacity": 0.22},
         "encoding": {
          "x": {"field": "t", "type": "quantitative", "scale": {"domain": [1, 30], "nice": false},
                "axis": {"title": null, "values": [5.5, 15.5, 25.5], "ticks": false, "labelExpr": "datum.value < 10 ? 'Block 1' : datum.value < 20 ? 'Block 2' : 'Block 3'", "labelFlush": false, "labelBound": false, "labelFontSize": 14, "labelPadding": 4, "domainColor": "#555", "domainWidth": 1.5}},
          "y": {"field": "lo", "type": "quantitative", "scale": {"domain": [0, 40], "nice": false},
                "axis": {"title": "Number of Hits (per minute)", "values": [0,10,20,30,40], "tickCount": 10, "domain": false, "ticks": false, "labelFontSize": 14, "labelAlign": "center", "labelPadding": 18, "titleFontSize": 13, "titlePadding": 4}},
          "y2": {"field": "hi"},
          "color": {"field": "g", "type": "nominal", "scale": {"domain": ["Sham","Anaesthetic"], "range": ["#4A9AE6","#F0891D"]}, "legend": null}
         }},
        {"data": {"name": "bL"}, "transform": [{"filter": "datum.d == 1"}], "mark": {"type": "line", "strokeWidth": 1.6},
         "encoding": {"x": {"field": "t", "type": "quantitative"}, "y": {"field": "m", "type": "quantitative"}, "color": {"field": "g", "type": "nominal", "legend": null}}},
        {"data": {"name": "bL"}, "transform": [{"filter": "datum.d == 1 && datum.g == 'Sham'"}], "mark": {"type": "rule", "color": "#888"},
         "encoding": {"x": {"field": "t", "type": "quantitative"}, "y": {"datum": 0}, "y2": {"datum": 0.55}}},
        {"data": {"values": [{"t": 10}, {"t": 20}]}, "mark": {"type": "rule", "strokeDash": [6,4], "color": "#aaa"},
         "encoding": {"x": {"field": "t", "type": "quantitative"}}}
       ]},
      {"width": 260, "height": 15, "data": {"values": [{"d": "Day 1"}]},
       "layer": [
        {"mark": {"type": "rect", "color": "#dcdcdc"}, "encoding": {"x": {"field": "d", "type": "nominal", "axis": null, "scale": {"paddingInner": 0, "paddingOuter": 0}}}},
        {"mark": {"type": "text", "fontSize": 14, "color": "#333"}, "encoding": {"x": {"field": "d", "type": "nominal", "axis": null}, "text": {"field": "d"}}}
       ]}
     ]},
     {"spacing": 4, "vconcat": [
      {"width": 175, "height": 306,
       "layer": [
        {"data": {"name": "bL"}, "transform": [{"filter": "datum.d == 2"}], "mark": {"type": "area", "opacity": 0.22},
         "encoding": {
          "x": {"field": "t", "type": "quantitative", "scale": {"domain": [1, 20.45], "nice": false},
                "axis": {"title": null, "values": [5.5, 15.5], "ticks": false, "labelExpr": "datum.value < 10 ? 'Retention' : 'Transfer'", "labelFlush": false, "labelBound": false, "labelFontSize": 14, "labelPadding": 4, "domainColor": "#555", "domainWidth": 1.5}},
          "y": {"field": "lo", "type": "quantitative", "scale": {"domain": [0, 40], "nice": false},
                "axis": {"title": null, "labels": false, "ticks": false, "domain": true, "domainColor": "#777", "domainWidth": 1.5, "offset": 4}},
          "y2": {"field": "hi"},
          "detail": {"field": "p"},
          "color": {"field": "g", "type": "nominal", "scale": {"domain": ["Sham","Anaesthetic"], "range": ["#4A9AE6","#F0891D"]}, "legend": null}
         }},
        {"data": {"name": "bL"}, "transform": [{"filter": "datum.d == 2"}], "mark": {"type": "line", "strokeWidth": 1.6},
         "encoding": {"x": {"field": "t", "type": "quantitative"}, "y": {"field": "m", "type": "quantitative"}, "detail": {"field": "p"}, "color": {"field": "g", "type": "nominal", "legend": null}}},
        {"data": {"name": "bL"}, "transform": [{"filter": "datum.d == 2 && datum.g == 'Sham'"}], "mark": {"type": "rule", "color": "#888"},
         "encoding": {"x": {"field": "t", "type": "quantitative"}, "y": {"datum": 0}, "y2": {"datum": 0.55}}},
        {"data": {"values": [{"t": 10.5}]}, "mark": {"type": "rule", "strokeDash": [6,4], "color": "#aaa"},
         "encoding": {"x": {"field": "t", "type": "quantitative"}}}
       ]},
      {"width": 175, "height": 15, "data": {"values": [{"d": "Day 2"}]},
       "layer": [
        {"mark": {"type": "rect", "color": "#dcdcdc"}, "encoding": {"x": {"field": "d", "type": "nominal", "axis": null, "scale": {"paddingInner": 0, "paddingOuter": 0}}}},
        {"mark": {"type": "text", "fontSize": 14, "color": "#333"}, "encoding": {"x": {"field": "d", "type": "nominal", "axis": null}, "text": {"field": "d"}}}
       ]}
     ]}
    ]
   }]
  }
 ]},
 {"spacing": 24, "hconcat": [
  {"title": {"text": "C", "anchor": "start", "offset": 0, "dy": 21, "dx": 3},
   "vconcat": [{
    "title": {"text": "Collaboration", "anchor": "middle", "offset": -2, "dx": 20},
    "spacing": 4,
    "hconcat": [
     {"spacing": 7, "vconcat": [
      {"width": 320, "height": 299,
       "layer": [
        {"data": {"name": "cL"}, "transform": [{"filter": "datum.d == 1"}], "mark": {"type": "area", "opacity": 0.22},
         "encoding": {
          "x": {"field": "t", "type": "quantitative", "scale": {"domain": [0.85, 30.15], "nice": false},
                "axis": {"title": null, "values": [5.5, 15.5, 25.5], "ticks": false, "labelExpr": "datum.value < 10 ? 'Block 1' : datum.value < 20 ? 'Block 2' : 'Block 3'", "labelFlush": false, "labelBound": false, "labelFontSize": 14, "labelPadding": 4, "domainColor": "#555", "domainWidth": 1.5}},
          "y": {"field": "lo", "type": "quantitative", "scale": {"domain": [0, 16], "nice": false},
                "axis": {"title": "Number of Floors Built (per minute)", "values": [0,2,4,6,8,10,12,14,16], "tickCount": 20, "labelOverlap": false, "domain": false, "ticks": false, "labelFontSize": 13, "labelAlign": "center", "labelPadding": 15, "titleFontSize": 13, "titlePadding": 11}},
          "y2": {"field": "hi"},
          "color": {"field": "g", "type": "nominal", "scale": {"domain": ["Sham","Anaesthetic"], "range": ["#4A9AE6","#F0891D"]}, "legend": null}
         }},
        {"data": {"name": "cL"}, "transform": [{"filter": "datum.d == 1"}], "mark": {"type": "line", "strokeWidth": 1.6},
         "encoding": {"x": {"field": "t", "type": "quantitative"}, "y": {"field": "m", "type": "quantitative"}, "color": {"field": "g", "type": "nominal", "legend": null}}},
        {"data": {"name": "cL"}, "transform": [{"filter": "datum.d == 1 && datum.g == 'Sham'"}], "mark": {"type": "rule", "color": "#888"},
         "encoding": {"x": {"field": "t", "type": "quantitative"}, "y": {"datum": 0}, "y2": {"datum": 0.22}}},
        {"data": {"values": [{"t": 10}, {"t": 20}]}, "mark": {"type": "rule", "strokeDash": [6,4], "color": "#aaa"},
         "encoding": {"x": {"field": "t", "type": "quantitative"}}}
       ]},
      {"width": 320, "height": 7, "data": {"values": [{"d": "Day 1"}]},
       "layer": [
        {"mark": {"type": "rect", "color": "#dcdcdc"}, "encoding": {"x": {"field": "d", "type": "nominal", "axis": null, "scale": {"paddingInner": 0, "paddingOuter": 0}}}},
        {"mark": {"type": "text", "fontSize": 14, "color": "#333", "baseline": "top", "clip": true}, "encoding": {"x": {"field": "d", "type": "nominal", "axis": null}, "text": {"field": "d"}}}
       ]}
     ]},
     {"spacing": 7, "vconcat": [
      {"width": 107, "height": 299,
       "layer": [
        {"data": {"name": "cL"}, "transform": [{"filter": "datum.d == 2"}], "mark": {"type": "area", "opacity": 0.22},
         "encoding": {
          "x": {"field": "t", "type": "quantitative", "scale": {"domain": [0.9, 10.8], "nice": false},
                "axis": {"title": null, "values": [5.5], "ticks": false, "labelExpr": "'Retention'", "labelFlush": false, "labelBound": false, "labelFontSize": 14, "labelPadding": 4, "domainColor": "#555", "domainWidth": 1.5}},
          "y": {"field": "lo", "type": "quantitative", "scale": {"domain": [0, 16], "nice": false},
                "axis": {"title": null, "labels": false, "ticks": false, "domain": true, "domainColor": "#777", "domainWidth": 1.5, "offset": 6}},
          "y2": {"field": "hi"},
          "color": {"field": "g", "type": "nominal", "scale": {"domain": ["Sham","Anaesthetic"], "range": ["#4A9AE6","#F0891D"]}, "legend": null}
         }},
        {"data": {"name": "cL"}, "transform": [{"filter": "datum.d == 2"}], "mark": {"type": "line", "strokeWidth": 1.6},
         "encoding": {"x": {"field": "t", "type": "quantitative"}, "y": {"field": "m", "type": "quantitative"}, "color": {"field": "g", "type": "nominal", "legend": null}}},
        {"data": {"name": "cL"}, "transform": [{"filter": "datum.d == 2 && datum.g == 'Sham'"}], "mark": {"type": "rule", "color": "#888"},
         "encoding": {"x": {"field": "t", "type": "quantitative"}, "y": {"datum": 0}, "y2": {"datum": 0.22}}}
       ]},
      {"width": 107, "height": 7, "data": {"values": [{"d": "Day 2"}]},
       "layer": [
        {"mark": {"type": "rect", "color": "#dcdcdc"}, "encoding": {"x": {"field": "d", "type": "nominal", "axis": null, "scale": {"paddingInner": 0, "paddingOuter": 0}}}},
        {"mark": {"type": "text", "fontSize": 14, "color": "#333", "baseline": "top", "clip": true}, "encoding": {"x": {"field": "d", "type": "nominal", "axis": null}, "text": {"field": "d"}}}
       ]}
     ]}
    ]
   }]
  },
  {"title": {"text": "D", "anchor": "start", "offset": 0, "dy": 21, "dx": 50},
   "vconcat": [{
    "title": {"text": "Collaboration - Toe Motor Control", "anchor": "middle", "offset": 4, "dx": 14},
    "spacing": 11,
    "hconcat": [
     {"width": 182, "height": 299,
      "resolve": {"scale": {"xOffset": "independent"}},
      "layer": [
       {"data": {"name": "dBars"}, "transform": [{"filter": "datum.p == 'D1'"}], "mark": {"type": "bar", "stroke": "#333", "strokeWidth": 1},
        "encoding": {
         "x": {"field": "c", "type": "nominal", "scale": {"domain": ["Abduction","Flexion"], "paddingInner": 0.58, "paddingOuter": 0.29},
               "axis": {"title": null, "labelAngle": 0, "ticks": false, "domainColor": "#555", "domainWidth": 1.5, "labelFontSize": 15, "labelPadding": 4}},
         "xOffset": {"field": "g", "type": "nominal", "scale": {"domain": ["Anaesthetic","Sham"], "paddingInner": 0, "paddingOuter": 0}},
         "y": {"field": "m", "type": "quantitative", "scale": {"domain": [0, 1.353], "nice": false},
               "axis": {"title": "Normalised Average Force Applied", "values": [0,0.2,0.4,0.6,0.8,1], "tickCount": 10, "format": "~g", "domain": false, "ticks": false, "labelFontSize": 15, "labelAlign": "center", "labelPadding": 10, "titleFontSize": 15, "titlePadding": 9, "titleY": 187}},
         "color": {"field": "g", "type": "nominal", "scale": {"domain": ["Sham","Anaesthetic"], "range": ["#4A9AE6","#F0891D"]}, "legend": null}
        }},
       {"data": {"name": "dBars"}, "transform": [{"filter": "datum.p == 'D1'"}], "mark": {"type": "rule", "color": "#222", "strokeWidth": 1.3},
        "encoding": {"x": {"field": "c", "type": "nominal"}, "xOffset": {"field": "g", "type": "nominal", "scale": {"domain": ["Anaesthetic","Sham"], "paddingInner": 0, "paddingOuter": 0}}, "y": {"field": "lo", "type": "quantitative"}, "y2": {"field": "hi"}}},
       {"data": {"name": "dPts"}, "transform": [{"filter": "datum.p == 'D1'"}], "mark": {"type": "circle", "size": 22, "color": "#999", "opacity": 0.55},
        "encoding": {"x": {"field": "c", "type": "nominal"}, "xOffset": {"field": "k", "type": "nominal", "scale": {"paddingOuter": 1}}, "y": {"field": "v", "type": "quantitative"}}}
      ]},
     {"width": 94, "height": 299,
      "resolve": {"scale": {"xOffset": "independent"}},
      "layer": [
       {"data": {"name": "dBars"}, "transform": [{"filter": "datum.p == 'D2'"}], "mark": {"type": "bar", "stroke": "#333", "strokeWidth": 1},
        "encoding": {
         "x": {"field": "c", "type": "nominal", "scale": {"domain": ["Bilateral Movement"], "paddingInner": 0.58, "paddingOuter": 0.37},
               "axis": {"title": null, "labelAngle": 0, "ticks": false, "domainColor": "#555", "domainWidth": 1.5, "labelFontSize": 15, "labelPadding": 3, "labelExpr": "split(datum.label, ' ')", "labelLineHeight": 15}},
         "xOffset": {"field": "g", "type": "nominal", "scale": {"domain": ["Anaesthetic","Sham"], "paddingInner": 0, "paddingOuter": 0}},
         "y": {"field": "m", "type": "quantitative", "scale": {"domain": [0, 1.353], "nice": false},
               "axis": {"title": "% of Total Movement Time", "values": [0,0.2,0.4,0.6,0.8,1], "tickCount": 10, "format": "~g", "domain": false, "ticks": false, "labelFontSize": 15, "labelAlign": "center", "labelPadding": 11, "titleFontSize": 15, "titlePadding": 9, "titleY": 187}},
         "color": {"field": "g", "type": "nominal", "scale": {"domain": ["Sham","Anaesthetic"], "range": ["#4A9AE6","#F0891D"]}, "legend": null}
        }},
       {"data": {"name": "dBars"}, "transform": [{"filter": "datum.p == 'D2'"}], "mark": {"type": "rule", "color": "#222", "strokeWidth": 1.3},
        "encoding": {"x": {"field": "c", "type": "nominal"}, "xOffset": {"field": "g", "type": "nominal", "scale": {"domain": ["Anaesthetic","Sham"], "paddingInner": 0, "paddingOuter": 0}}, "y": {"field": "lo", "type": "quantitative"}, "y2": {"field": "hi"}}},
       {"data": {"name": "dPts"}, "transform": [{"filter": "datum.p == 'D2'"}], "mark": {"type": "circle", "size": 22, "color": "#999", "opacity": 0.55},
        "encoding": {"x": {"field": "c", "type": "nominal"}, "xOffset": {"field": "k", "type": "nominal", "scale": {"paddingOuter": 1}}, "y": {"field": "v", "type": "quantitative"}}},
       {"data": {"name": "dSig"}, "transform": [{"filter": "datum.p == 'D2'"}], "mark": {"type": "tick", "orient": "horizontal", "size": 20, "thickness": 1, "color": "#444"},
        "encoding": {"x": {"field": "c", "type": "nominal"}, "y": {"field": "y", "type": "quantitative"}}},
       {"data": {"name": "dSig"}, "transform": [{"filter": "datum.p == 'D2'"}], "mark": {"type": "text", "fontSize": 14, "dy": -5, "color": "#222"},
        "encoding": {"x": {"field": "c", "type": "nominal"}, "y": {"field": "y", "type": "quantitative"}, "text": {"field": "s"}}}
      ]},
     {"width": 171, "height": 299,
      "resolve": {"scale": {"xOffset": "independent"}},
      "layer": [
       {"data": {"name": "dBars"}, "transform": [{"filter": "datum.p == 'D3'"}], "mark": {"type": "bar", "stroke": "#333", "strokeWidth": 1},
        "encoding": {
         "x": {"field": "c", "type": "nominal", "scale": {"domain": ["Abduction Movement","Flexion Movement"], "paddingInner": 0.56, "paddingOuter": 0.32},
               "axis": {"title": null, "labelAngle": 0, "ticks": false, "domainColor": "#555", "domainWidth": 1.5, "labelFontSize": 15, "labelPadding": 3, "labelExpr": "split(datum.label, ' ')", "labelLineHeight": 15}},
         "xOffset": {"field": "g", "type": "nominal", "scale": {"domain": ["Anaesthetic","Sham"], "paddingInner": 0, "paddingOuter": 0}},
         "y": {"field": "m", "type": "quantitative", "scale": {"domain": [0, 1.353], "nice": false},
               "axis": {"title": "% of Total Task Time", "values": [0,0.2,0.4,0.6,0.8,1], "tickCount": 10, "format": "~g", "domain": false, "ticks": false, "labelFontSize": 15, "labelAlign": "center", "labelPadding": 16, "titleFontSize": 15, "titlePadding": 5, "titleY": 187}},
         "color": {"field": "g", "type": "nominal", "scale": {"domain": ["Sham","Anaesthetic"], "range": ["#4A9AE6","#F0891D"]}, "legend": null}
        }},
       {"data": {"name": "dBars"}, "transform": [{"filter": "datum.p == 'D3'"}], "mark": {"type": "rule", "color": "#222", "strokeWidth": 1.3},
        "encoding": {"x": {"field": "c", "type": "nominal"}, "xOffset": {"field": "g", "type": "nominal", "scale": {"domain": ["Anaesthetic","Sham"], "paddingInner": 0, "paddingOuter": 0}}, "y": {"field": "lo", "type": "quantitative"}, "y2": {"field": "hi"}}},
       {"data": {"name": "dPts"}, "transform": [{"filter": "datum.p == 'D3'"}], "mark": {"type": "circle", "size": 22, "color": "#999", "opacity": 0.55},
        "encoding": {"x": {"field": "c", "type": "nominal"}, "xOffset": {"field": "k", "type": "nominal", "scale": {"paddingOuter": 1}}, "y": {"field": "v", "type": "quantitative"}}},
       {"data": {"name": "dSig"}, "transform": [{"filter": "datum.p == 'D3'"}], "mark": {"type": "tick", "orient": "horizontal", "size": 21, "thickness": 1, "color": "#444"},
        "encoding": {"x": {"field": "c", "type": "nominal"}, "y": {"field": "y", "type": "quantitative"}}},
       {"data": {"name": "dSig"}, "transform": [{"filter": "datum.p == 'D3'"}], "mark": {"type": "text", "fontSize": 14, "dy": -5, "color": "#222"},
        "encoding": {"x": {"field": "c", "type": "nominal"}, "y": {"field": "y", "type": "quantitative"}, "text": {"field": "s"}}}
      ]}
    ]
   }]
  }
 ]}
]
}
